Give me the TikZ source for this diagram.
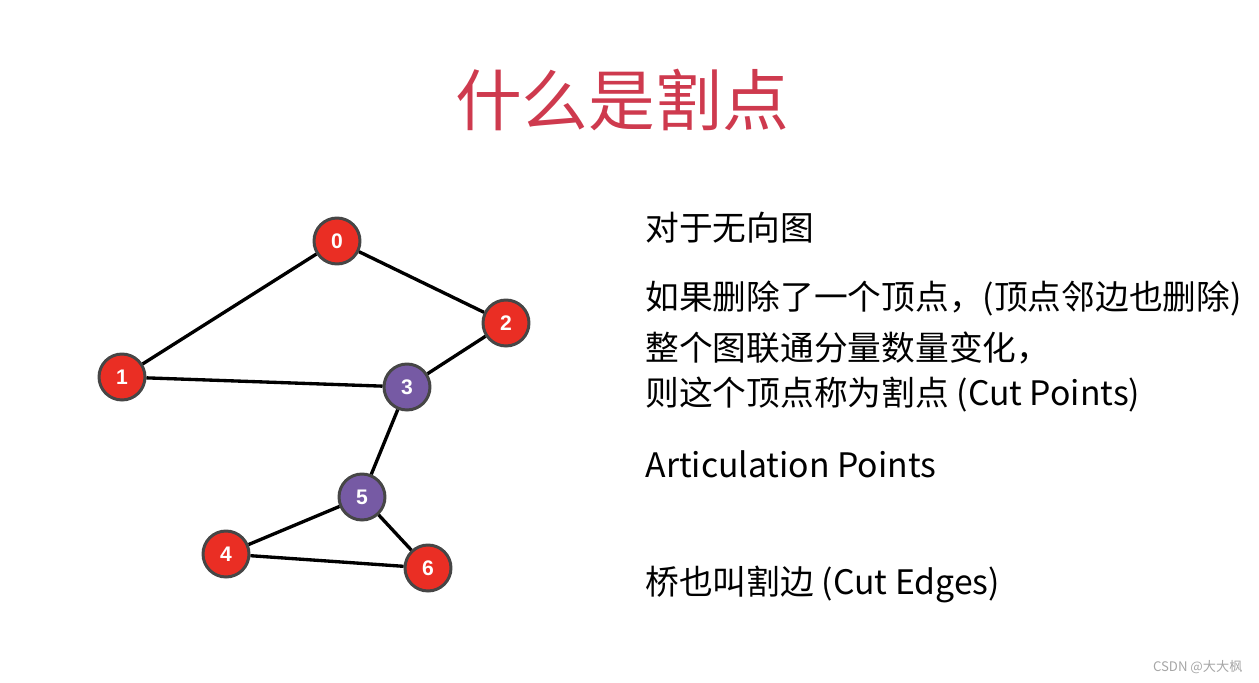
\documentclass[tikz,border=0pt]{standalone}
\usepackage{fontspec}
\setmainfont{Liberation Sans}
\newfontfamily\cjk{Noto Sans CJK SC}
\usetikzlibrary{positioning}
\definecolor{vred}{RGB}{234,46,36}
\definecolor{vpurple}{RGB}{118,90,164}
\definecolor{vrim}{RGB}{70,70,70}
\definecolor{titlered}{RGB}{206,58,78}
\tikzset{
  vertex/.style={circle, draw=vrim, line width=1.7pt, minimum size=0.92cm, inner sep=0pt,
    text=white, font=\bfseries\large},
  cut/.style={vertex, fill=vpurple},
  plain/.style={vertex, fill=vred},
  line/.style={anchor=west, font=\cjk\fontsize{19.2}{22}\selectfont}
}
\begin{document}
\begin{tikzpicture}[x=0.02cm, y=-0.02cm, line width=1.9pt]
        \useasboundingbox (0,0) rectangle (1259,683);
        \node[font=\cjk\fontsize{38}{44}\selectfont, text=titlered] (title) at (622,100) {什么是割点};
        % vertices
        \node[plain] (v0) at (337,241) {0};
        \node[plain] (v1) at (122,377) {1};
        \node[plain] (v2) at (506,323) {2};
        \node[cut] (v3) at (407,387) {3};
        \node[cut] (v5) at (362,497) {5};
        \node[plain] (v4) at (226,554) {4};
        \node[plain] (v6) at (428,568) {6};
        % edges
        \draw (v0) -- (v1);
        \draw (v0) -- (v2);
        \draw (v1) -- (v3);
        \draw (v2) -- (v3);
        \draw (v3) -- (v5);
        \draw (v5) -- (v4);
        \draw (v5) -- (v6);
        \draw (v4) -- (v6);
        % text
        \node[line] (t1) at (638,228) {对于无向图};
        \node[line] (t2) at (638,299) {如果删除了一个顶点，(顶点邻边也删除)};
        \node[line] (t3) at (638,348) {整个图联通分量数量变化，};
        \node[line] (t4) at (638,395) {则这个顶点称为割点 (Cut Points)};
        \node[line] (t5) at (638,464) {Articulation Points};
        \node[line] (t6) at (638,584) {桥也叫割边 (Cut Edges)};
        \node[font=\cjk\fontsize{7.5}{9}\selectfont, text=gray!70, anchor=east] (mark) at (1250,667) {CSDN @大大枫};
\end{tikzpicture}
\end{document}
